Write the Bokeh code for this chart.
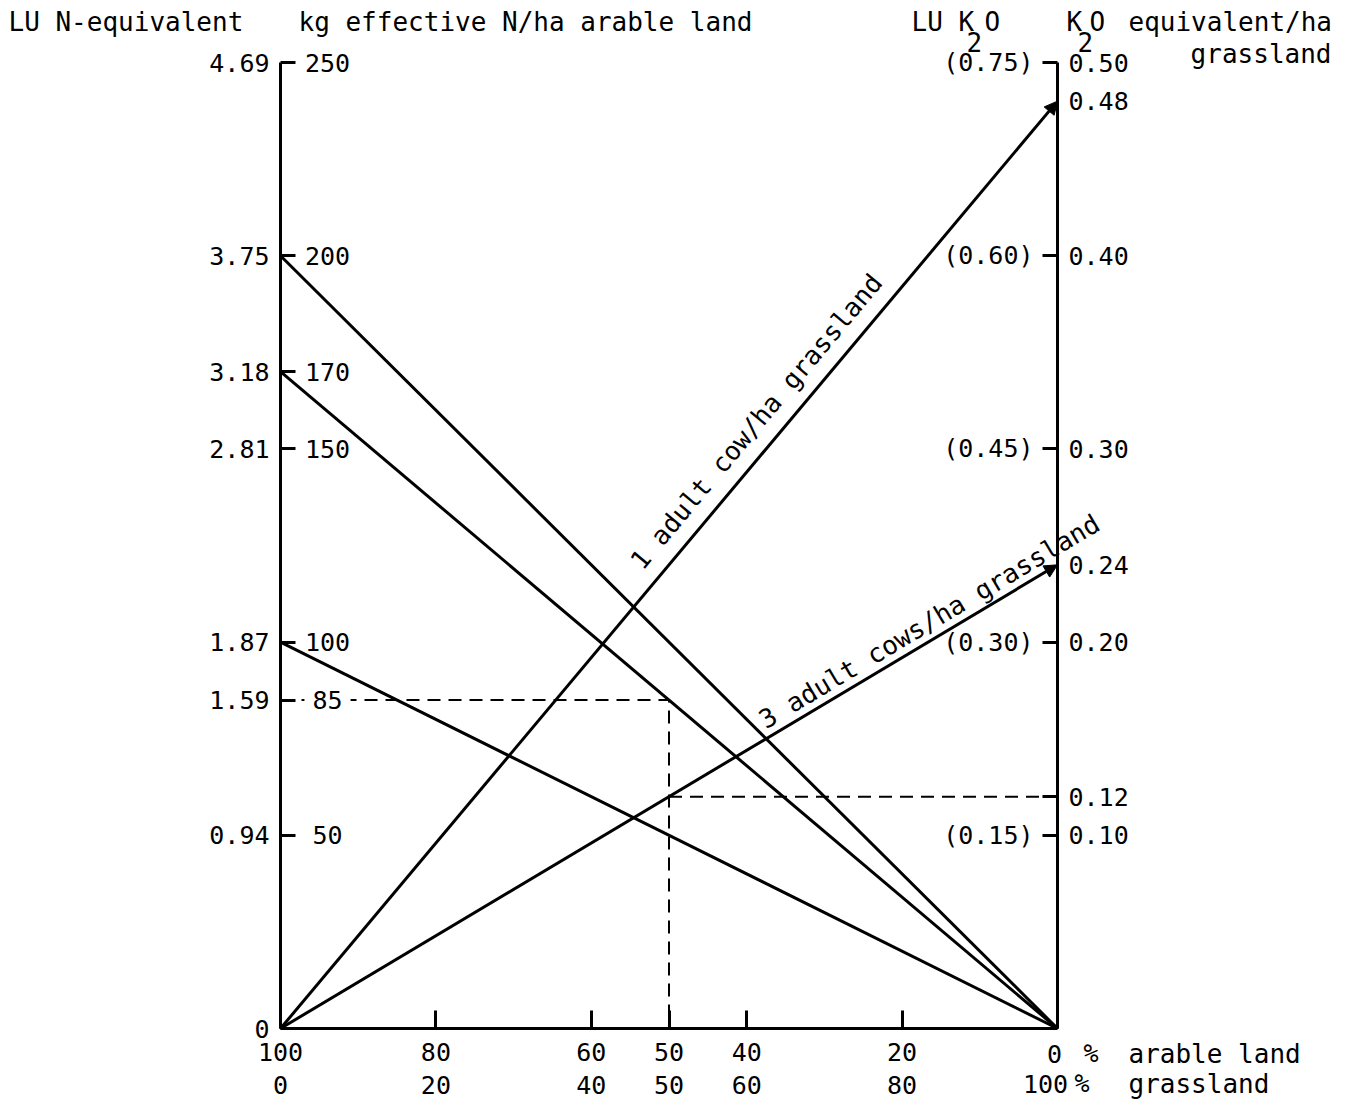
import math

from bokeh.core.properties import value
from bokeh.embed import file_html
from bokeh.models import (Arrow, ColumnDataSource, FixedTicker, Label, LabelSet,
                          LinearAxis, NormalHead, NumeralTickFormatter, Range1d)
from bokeh.plotting import figure
from bokeh.resources import INLINE

# ---- values -------------------------------------------------------------
# % arable land along the bottom (reads right to left) and the matching % grassland
arable_pct = [100, 80, 60, 50, 40, 20, 0]
grass_pct = [0, 20, 40, 50, 60, 80, 100]

# left scale: kg effective N/ha arable land and the LU N-equivalent beside it
n_ticks = [250, 200, 170, 150, 100, 85, 50, 0]
lu_n = ["4.69", "3.75", "3.18", "2.81", "1.87", "1.59", "0.94", "0"]

# right scale: K2O equivalent/ha grassland and the LU K2O beside it
k2o_ticks = [0.50, 0.40, 0.30, 0.20, 0.12, 0.10]
k2o_arrow_ticks = [0.48, 0.24]
lu_k2o_at = [0.50, 0.40, 0.30, 0.20, 0.10]
lu_k2o = ["(0.75)", "(0.60)", "(0.45)", "(0.30)", "(0.15)"]

# nitrogen lines: start on the left scale, end at 0 % arable land
n_start = [200, 170, 100]
# K2O lines: start at 100 % arable land, end on the right scale
k2o_end = [0.48, 0.24]
k2o_names = ["1 adult cow/ha grassland", "3 adult cows/ha grassland"]

read_pct = 50
read_n = 85
read_k2o = 0.12

# ---- layout -------------------------------------------------------------
W, H = 1352, 1106
LEFT, RIGHT, TOP, BOTTOM = 280, 1057, 62, 1028
FRAME_W, FRAME_H = RIGHT - LEFT, BOTTOM - TOP
P_MAX, N_MAX, K_MAX = 100, 250, 0.50
PX_X = FRAME_W / P_MAX          # pixels per % arable land
PX_Y = FRAME_H / N_MAX          # pixels per kg N

FONT = "DejaVu Sans Mono"
FS_NUM = "25px"
FS_TXT = "26px"
INK = "black"

# the plot area fills the page; the scales are pinned inside it
x_rng = Range1d(P_MAX + LEFT / PX_X, P_MAX - (W - LEFT) / PX_X)
y_lo, y_hi = -(H - BOTTOM) / PX_Y, BOTTOM / PX_Y
p = figure(width=W, height=H, output_backend="svg", toolbar_location=None, tools="",
           x_range=x_rng, y_range=Range1d(y_lo, y_hi),
           min_border=0, min_border_left=0, min_border_right=0,
           min_border_top=0, min_border_bottom=0)
p.extra_y_ranges = {"k2o": Range1d(y_lo * K_MAX / N_MAX, y_hi * K_MAX / N_MAX)}
p.outline_line_color = None
p.xgrid.visible = False
p.ygrid.visible = False
p.background_fill_color = "white"
p.border_fill_color = "white"


def style_axis(ax, tick_in, standoff, line=True):
    ax.major_tick_in = tick_in
    ax.major_tick_out = 0
    ax.minor_tick_line_color = None
    ax.major_label_standoff = standoff
    ax.major_label_text_font = FONT
    ax.major_label_text_font_size = FS_NUM
    ax.major_label_text_color = INK
    if line:
        ax.axis_line_width = 3
        ax.axis_line_color = INK
        ax.major_tick_line_width = 3
        ax.major_tick_line_color = INK
    else:
        ax.axis_line_color = None
        ax.major_tick_line_color = None


# left axis at 100 % arable land: LU N-equivalent labels outside, ticks pointing in
ax_l = p.yaxis[0]
ax_l.fixed_location = P_MAX
ax_l.bounds = (0, N_MAX)
ax_l.ticker = FixedTicker(ticks=n_ticks)
ax_l.major_label_overrides = {v: s for v, s in zip(n_ticks, lu_n)}
style_axis(ax_l, 15, 11)

# bottom axes at 0 kg N: % arable land, then % grassland underneath
ax_b = p.xaxis[0]
ax_b.fixed_location = 0
ax_b.bounds = (0, P_MAX)
ax_b.ticker = FixedTicker(ticks=arable_pct)
ax_b.major_label_overrides = {arable_pct[-1]: ""}
style_axis(ax_b, 18, 14)

grass_over = {a: str(g) for a, g in zip(arable_pct, grass_pct)}
grass_over[arable_pct[-1]] = ""
ax_b2 = LinearAxis(ticker=FixedTicker(ticks=arable_pct), major_label_overrides=grass_over,
                   fixed_location=0, bounds=(0, P_MAX))
style_axis(ax_b2, 0, 47, line=False)
p.add_layout(ax_b2, "below")

# right axis at 0 % arable land: K2O equivalent/ha grassland
ax_r = LinearAxis(y_range_name="k2o", ticker=FixedTicker(ticks=k2o_ticks),
                  formatter=NumeralTickFormatter(format="0.00"),
                  fixed_location=0, bounds=(0, K_MAX))
style_axis(ax_r, 15, 11)
p.add_layout(ax_r, "right")

# values where the K2O lines end carry an arrow instead of a tick
ax_r2 = LinearAxis(y_range_name="k2o", ticker=FixedTicker(ticks=k2o_arrow_ticks),
                   formatter=NumeralTickFormatter(format="0.00"),
                   fixed_location=0, bounds=(0, K_MAX))
style_axis(ax_r2, 0, 11, line=False)
p.add_layout(ax_r2, "right")

# ---- lines --------------------------------------------------------------
p.segment(x0=[P_MAX] * len(n_start), y0=n_start,
          x1=[0] * len(n_start), y1=[0] * len(n_start),
          line_width=3, line_color=INK)

arrow_src = ColumnDataSource(dict(x0=[P_MAX] * len(k2o_end), y0=[0] * len(k2o_end),
                                  x1=[0] * len(k2o_end), y1=k2o_end))
p.add_layout(Arrow(source=arrow_src, x_start="x0", y_start="y0", x_end="x1", y_end="y1",
                   y_range_name="k2o", line_width=3, line_color=INK,
                   end=NormalHead(size=13, fill_color=INK, line_color=INK, line_width=1)))

DASH = "13 8"
p.line(x=[P_MAX, read_pct, read_pct], y=[read_n, read_n, 0],
       line_dash=DASH, line_width=2, line_color=INK)
p.line(x=[read_pct, 0], y=[read_k2o, read_k2o], y_range_name="k2o",
       line_dash=DASH, line_width=2, line_color=INK)

# ---- inner scale labels -------------------------------------------------
txt = dict(text_font=FONT, text_font_size=FS_TXT, text_color=INK)
vnum = dict(text_font=value(FONT), text_font_size=value(FS_NUM), text_color=INK)

n_inner = [v for v in n_ticks if v > 0 and v != read_n]
p.add_layout(LabelSet(source=ColumnDataSource(dict(x=[P_MAX] * len(n_inner), y=n_inner,
                                                   t=[str(v) for v in n_inner])),
                      x="x", y="y", text="t", x_offset=47, text_align="center",
                      text_baseline="middle", **vnum))

# the read-off value sits on a white patch that interrupts the dashed guide
p.add_layout(Label(x=P_MAX, y=read_n, text=str(read_n), x_offset=47, text_align="center",
                   text_baseline="middle", background_fill_color="white",
                   border_line_color="white", border_line_width=16,
                   text_font=FONT, text_font_size=FS_NUM, text_color=INK))

p.add_layout(LabelSet(source=ColumnDataSource(dict(x=[0] * len(lu_k2o_at),
                                                   y=lu_k2o_at, t=lu_k2o)),
                      x="x", y="y", text="t", y_range_name="k2o", x_offset=-24,
                      text_align="right", text_baseline="middle", **vnum))

# labels along the two K2O lines
label_pct = [51.8, 37.0]
label_gap = [25, 17]
for end, name, lp, gap in zip(k2o_end, k2o_names, label_pct, label_gap):
    ang = math.atan2(end / K_MAX * FRAME_H, FRAME_W)
    p.add_layout(Label(x=lp, y=end * (1 - lp / P_MAX), y_range_name="k2o", text=name,
                       angle=ang, x_offset=-gap * math.sin(ang), y_offset=gap * math.cos(ang),
                       text_align="left", text_baseline="alphabetic", **txt))


# ---- headers and unit labels -------------------------------------------
def head(text, x, y, dx, dy, align="left", rng="default", size=FS_TXT):
    p.add_layout(Label(x=x, y=y, text=text, x_offset=dx, y_offset=dy, y_range_name=rng,
                       text_align=align, text_baseline="middle", text_font=FONT,
                       text_font_size=size, text_color=INK))


head("LU N-equivalent", P_MAX, N_MAX, 8 - LEFT, TOP - 21)
head("kg effective N/ha arable land", P_MAX, N_MAX, 18, TOP - 21)
head("LU K", 0, K_MAX, 911 - RIGHT, TOP - 21, rng="k2o")
head("2", 0, K_MAX, 966 - RIGHT, TOP - 41, rng="k2o")
head("O", 0, K_MAX, 984 - RIGHT, TOP - 21, rng="k2o")
head("K", 0, K_MAX, 1066 - RIGHT, TOP - 21, rng="k2o")
head("2", 0, K_MAX, 1077 - RIGHT, TOP - 41, rng="k2o")
head("O", 0, K_MAX, 1089 - RIGHT, TOP - 21, rng="k2o")
head("equivalent/ha", 0, K_MAX, 1128 - RIGHT, TOP - 21, rng="k2o")
head("grassland", 0, K_MAX, 1331 - RIGHT, TOP - 53, align="right", rng="k2o")

# end labels of the two bottom rows
head("0", 0, 0, 1054 - RIGHT, BOTTOM - 1053, align="center", size=FS_NUM)
head("%", 0, 0, 1083 - RIGHT, BOTTOM - 1053, size=FS_NUM)
head("arable land", 0, 0, 1128 - RIGHT, BOTTOM - 1053)
head("100", 0, 0, 1045 - RIGHT, BOTTOM - 1083, align="center", size=FS_NUM)
head("%", 0, 0, 1074 - RIGHT, BOTTOM - 1083, size=FS_NUM)
head("grassland", 0, 0, 1128 - RIGHT, BOTTOM - 1083)

open("out.html", "w").write(file_html(p, INLINE))
